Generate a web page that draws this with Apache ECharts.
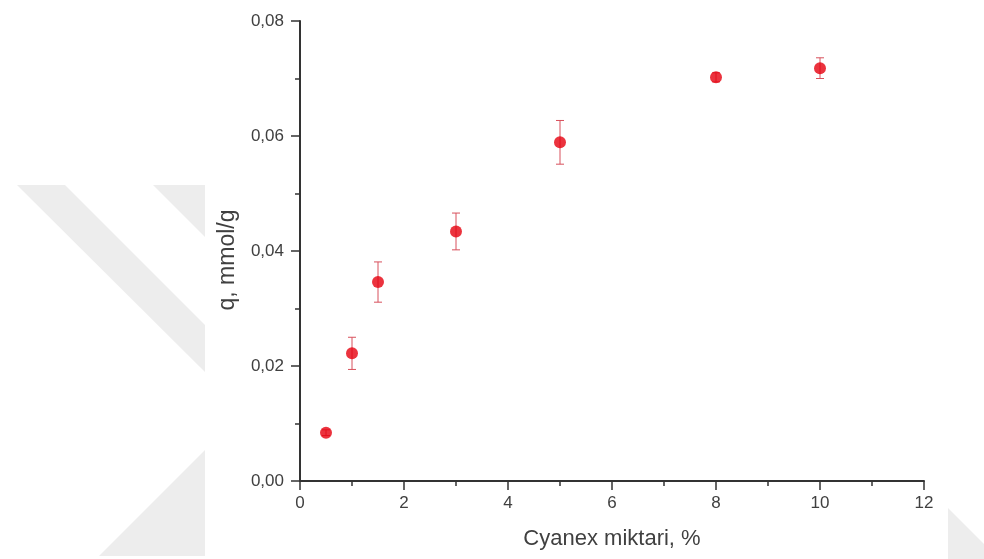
<!DOCTYPE html>
<html>
<head>
<meta charset="utf-8">
<script src="https://cdn.jsdelivr.net/npm/echarts@6/dist/echarts.min.js"></script>
<style>html,body{margin:0;padding:0;background:#fff;}#c{width:984px;height:559px;}</style>
</head>
<body>
<div id="c"></div>
<script>
const cyanexPct = [0.5, 1, 1.5, 3, 5, 8, 10];
const qValues = [0.0084, 0.0222, 0.0346, 0.0434, 0.0589, 0.0702, 0.0718];
const qErrors = [0.0005, 0.0028, 0.0035, 0.0032, 0.0038, 0.0008, 0.0018];
const xAxisTitle = 'Cyanex miktari, %';
const yAxisTitle = 'q, mmol/g';

const chart = echarts.init(document.getElementById('c'), null, {renderer: 'canvas'});
const pts = cyanexPct.map((x, i) => [x, qValues[i]]);
const errData = cyanexPct.map((x, i) => [x, qValues[i] - qErrors[i], qValues[i] + qErrors[i]]);
const wm = '#ededed';
const axisCol = '#333';
const labelCol = '#404040';

chart.setOption({
  backgroundColor: '#fff',
  animation: false,
  graphic: [
    {type: 'polygon', silent: true, z: -10, shape: {points: [[17,185],[65,185],[205,325],[205,372]]}, style: {fill: wm}},
    {type: 'polygon', silent: true, z: -10, shape: {points: [[153,185],[205,185],[205,237]]}, style: {fill: wm}},
    {type: 'polygon', silent: true, z: -10, shape: {points: [[205,450],[205,556],[99,556]]}, style: {fill: wm}},
    {type: 'polygon', silent: true, z: -10, shape: {points: [[948,508],[984,544],[984,559],[948,559]]}, style: {fill: wm}}
  ],
  grid: {left: 300, right: 60, top: 21, bottom: 78, containLabel: false},
  xAxis: {
    type: 'value', min: 0, max: 12, interval: 2,
    name: xAxisTitle, nameLocation: 'middle', nameGap: 47,
    nameTextStyle: {fontFamily: 'Liberation Sans', fontSize: 22, color: labelCol},
    axisLine: {show: true, onZero: false, lineStyle: {color: axisCol, width: 2}},
    axisTick: {show: true, inside: false, length: 9, lineStyle: {color: axisCol, width: 1.5}},
    minorTick: {show: true, splitNumber: 2, length: 5, lineStyle: {color: axisCol, width: 1.5}},
    splitLine: {show: false},
    axisLabel: {fontFamily: 'Liberation Sans', fontSize: 17, color: labelCol, margin: 14}
  },
  yAxis: {
    type: 'value', min: 0, max: 0.08, interval: 0.02,
    name: yAxisTitle, nameLocation: 'middle', nameGap: 61, nameRotate: 90,
    nameTextStyle: {fontFamily: 'Liberation Sans', fontSize: 23, color: labelCol, padding: [0, 18, 0, 0]},
    axisLine: {show: true, onZero: false, lineStyle: {color: axisCol, width: 2}},
    axisTick: {show: true, inside: false, length: 9, lineStyle: {color: axisCol, width: 1.5}},
    minorTick: {show: true, splitNumber: 2, length: 5, lineStyle: {color: axisCol, width: 1.5}},
    splitLine: {show: false},
    axisLabel: {fontFamily: 'Liberation Sans', fontSize: 17, color: labelCol, margin: 16,
      formatter: v => v.toFixed(2).replace('.', ',')}
  },
  series: [
    {
      type: 'custom',
      name: 'err',
      data: errData,
      z: 2,
      renderItem: function (params, api) {
        const x = api.value(0);
        const lo = api.coord([x, api.value(1)]);
        const hi = api.coord([x, api.value(2)]);
        const w = 4;
        const st = {stroke: '#d8505c', lineWidth: 1};
        return {
          type: 'group',
          children: [
            {type: 'line', shape: {x1: lo[0], y1: lo[1], x2: hi[0], y2: hi[1]}, style: st},
            {type: 'line', shape: {x1: lo[0]-w, y1: lo[1], x2: lo[0]+w, y2: lo[1]}, style: st},
            {type: 'line', shape: {x1: hi[0]-w, y1: hi[1], x2: hi[0]+w, y2: hi[1]}, style: st}
          ]
        };
      }
    },
    {
      type: 'scatter',
      data: pts,
      symbol: 'circle',
      symbolSize: 12,
      z: 3,
      itemStyle: {color: '#e6000e'}
    }
  ]
});
</script>
</body>
</html>
